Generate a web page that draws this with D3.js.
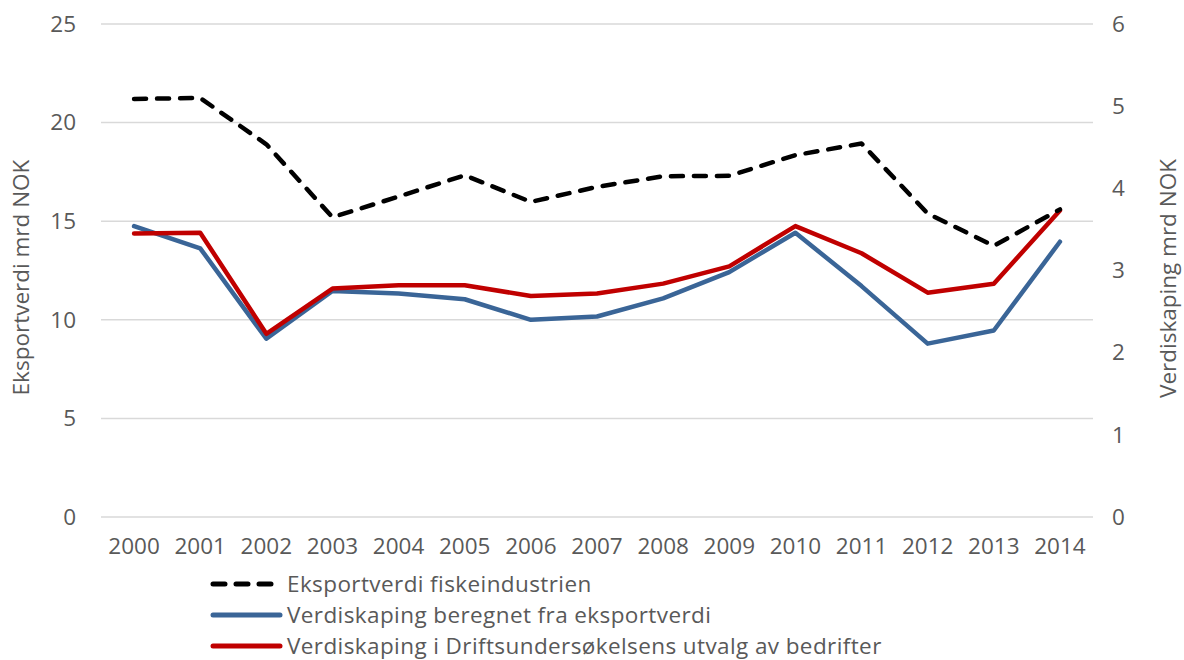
<!DOCTYPE html>
<html>
<head>
<meta charset="utf-8">
<script src="https://cdn.jsdelivr.net/npm/d3@7"></script>
<style>
  body { margin: 0; background: #fff; }
  svg text { font-family: "Open Sans", Lato, sans-serif; fill: #595959; }
</style>
</head>
<body>
<svg id="chart" width="1184" height="660"></svg>
<script>
// Data
const years = ["2000", "2001", "2002", "2003", "2004", "2005", "2006", "2007", "2008", "2009", "2010", "2011", "2012", "2013", "2014"];
const eksportverdi = [21.2, 21.25, 18.9, 15.2, 16.25, 17.33, 15.98, 16.74, 17.28, 17.3, 18.35, 18.94, 15.39, 13.75, 15.6];
const verdiskapingEksport = [3.54, 3.27, 2.17, 2.75, 2.72, 2.65, 2.40, 2.44, 2.66, 2.98, 3.46, 2.81, 2.11, 2.27, 3.35];
const verdiskapingDrift = [3.45, 3.46, 2.23, 2.78, 2.82, 2.82, 2.69, 2.72, 2.84, 3.05, 3.54, 3.21, 2.73, 2.84, 3.73];
const leftTicks = [0, 5, 10, 15, 20, 25];
const rightTicks = [0, 1, 2, 3, 4, 5, 6];
const legendLabels = [
    "Eksportverdi fiskeindustrien",
    "Verdiskaping beregnet fra eksportverdi",
    "Verdiskaping i Driftsundersøkelsens utvalg av bedrifter"
];

const svg = d3.select("#chart");
const plot = { left: 101, right: 1093, top: 24, bottom: 517 };

const x = d3.scaleBand().domain(years).range([plot.left, plot.right]);
const yLeft = d3.scaleLinear().domain([0, 25]).range([plot.bottom, plot.top]);
const yRight = d3.scaleLinear().domain([0, 6]).range([plot.bottom, plot.top]);
const cx = d => x(d) + x.bandwidth() / 2;

// Rutenett
svg.append("g")
    .selectAll("line")
    .data(leftTicks)
    .enter()
    .append("line")
    .attr("x1", plot.left)
    .attr("x2", plot.right)
    .attr("y1", d => yLeft(d))
    .attr("y2", d => yLeft(d))
    .attr("stroke", "#d9d9d9")
    .attr("stroke-width", 1.5);

// Akser
const axisFont = g => {
    g.select(".domain").remove();
    g.selectAll(".tick line").remove();
    g.selectAll("text").style("font-size", "22.5px").attr("fill", "#595959");
};

svg.append("g")
    .attr("transform", `translate(${plot.left},0)`)
    .call(d3.axisLeft(yLeft).tickValues(leftTicks).tickFormat(d3.format("d")).tickSize(0).tickPadding(25))
    .call(axisFont);

svg.append("g")
    .attr("transform", `translate(${plot.right},0)`)
    .call(d3.axisRight(yRight).tickValues(rightTicks).tickFormat(d3.format("d")).tickSize(0).tickPadding(19))
    .call(axisFont);

svg.append("g")
    .attr("transform", `translate(0,${plot.bottom})`)
    .call(d3.axisBottom(x).tickSize(0).tickPadding(21))
    .call(axisFont);

// Aksetitler
svg.append("text")
    .attr("transform", `translate(29,${(plot.top + plot.bottom) / 2 + 7}) rotate(-90)`)
    .attr("text-anchor", "middle")
    .style("font-size", "22.5px")
    .text("Eksportverdi mrd NOK");

svg.append("text")
    .attr("transform", `translate(1176,${(plot.top + plot.bottom) / 2 + 8}) rotate(-90)`)
    .attr("text-anchor", "middle")
    .style("font-size", "22.5px")
    .text("Verdiskaping mrd NOK");

// Linjer
const lineLeft = d3.line().x((d, i) => cx(years[i])).y(d => yLeft(d));
const lineRight = d3.line().x((d, i) => cx(years[i])).y(d => yRight(d));

const series = [
    { values: verdiskapingEksport, line: lineRight, color: "#3a6597", dash: null },
    { values: verdiskapingDrift, line: lineRight, color: "#c00000", dash: null },
    { values: eksportverdi, line: lineLeft, color: "#000000", dash: "12,11" }
];

series.forEach(s => {
    svg.append("path")
        .datum(s.values)
        .attr("d", s.line)
        .attr("fill", "none")
        .attr("stroke", s.color)
        .attr("stroke-width", 4.5)
        .attr("stroke-linejoin", "round")
        .attr("stroke-linecap", "round")
        .attr("stroke-dasharray", s.dash);
});

// Legende
const legendStyle = [
    { color: "#000000", dash: "12,11" },
    { color: "#3a6597", dash: null },
    { color: "#c00000", dash: null }
];
const legend = svg.append("g");
legendLabels.forEach((label, i) => {
    const yy = 584 + i * 31;
    legend.append("line")
        .attr("x1", 213)
        .attr("x2", 280)
        .attr("y1", yy)
        .attr("y2", yy)
        .attr("stroke", legendStyle[i].color)
        .attr("stroke-width", 5)
        .attr("stroke-linecap", "round")
        .attr("stroke-dasharray", legendStyle[i].dash);
    legend.append("text")
        .attr("x", 287)
        .attr("y", yy + 8)
        .style("font-size", "22.5px")
        .style("letter-spacing", "0.4px")
        .text(label);
});
</script>
</body>
</html>
